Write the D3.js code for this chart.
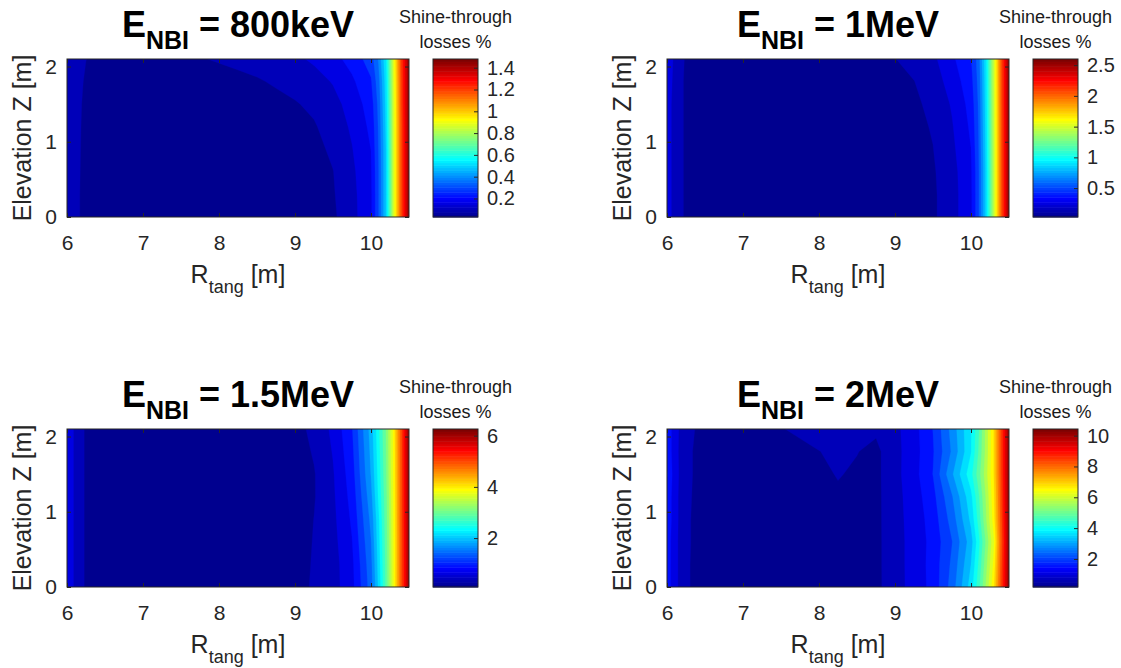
<!DOCTYPE html>
<html>
<head>
<meta charset="utf-8">
<script src="https://cdn.jsdelivr.net/npm/d3@7"></script>
<style>
body { margin: 0; background: #fff; }
text { font-family: "Liberation Sans", Arial, Helvetica, sans-serif; }
</style>
</head>
<body>
<svg id="chart" width="1121" height="668"></svg>
<script>
// grid of the scan (R_tang, elevation Z)
const rTang = [6, 6.05, 6.15, 6.25, 6.5, 7, 7.5, 8, 8.25, 8.5, 8.75, 9, 9.25, 9.5, 9.75, 10, 10.1, 10.2, 10.3, 10.4, 10.5];
const elevation = [0, 0.3, 0.6, 0.9, 1.2, 1.5, 1.8, 2.1];

// shine-through losses %, one row per elevation (bottom to top)
const loss800keV = [
  [0.13, 0.12, 0.095, 0.07, 0.05, 0.04, 0.035, 0.03, 0.032, 0.036, 0.042, 0.05, 0.06, 0.08, 0.13, 0.2, 0.33, 0.52, 0.9, 1.22, 1.48],
  [0.13, 0.12, 0.095, 0.07, 0.05, 0.04, 0.035, 0.031, 0.033, 0.037, 0.043, 0.05, 0.062, 0.085, 0.133, 0.2, 0.33, 0.52, 0.9, 1.22, 1.48],
  [0.13, 0.12, 0.096, 0.072, 0.05, 0.04, 0.036, 0.033, 0.035, 0.04, 0.047, 0.055, 0.068, 0.089, 0.138, 0.205, 0.33, 0.52, 0.9, 1.22, 1.48],
  [0.13, 0.12, 0.097, 0.074, 0.052, 0.042, 0.038, 0.036, 0.039, 0.044, 0.051, 0.06, 0.075, 0.1, 0.148, 0.212, 0.335, 0.52, 0.9, 1.22, 1.48],
  [0.13, 0.12, 0.098, 0.076, 0.054, 0.044, 0.041, 0.042, 0.046, 0.051, 0.058, 0.068, 0.085, 0.115, 0.16, 0.225, 0.34, 0.53, 0.9, 1.22, 1.48],
  [0.13, 0.12, 0.099, 0.079, 0.056, 0.048, 0.048, 0.054, 0.06, 0.066, 0.075, 0.086, 0.102, 0.13, 0.175, 0.24, 0.35, 0.54, 0.9, 1.23, 1.48],
  [0.135, 0.125, 0.102, 0.084, 0.062, 0.056, 0.06, 0.07, 0.077, 0.085, 0.097, 0.11, 0.128, 0.155, 0.2, 0.265, 0.37, 0.55, 0.91, 1.23, 1.48],
  [0.14, 0.13, 0.11, 0.091, 0.075, 0.07, 0.08, 0.095, 0.103, 0.112, 0.125, 0.14, 0.16, 0.19, 0.235, 0.3, 0.4, 0.57, 0.92, 1.24, 1.48]
];
const loss1MeV = [
  [0.3, 0.25, 0.17, 0.12, 0.08, 0.06, 0.05, 0.04, 0.035, 0.035, 0.045, 0.07, 0.09, 0.12, 0.2, 0.33, 0.55, 0.92, 1.5, 2.1, 2.6],
  [0.3, 0.25, 0.17, 0.12, 0.08, 0.06, 0.05, 0.04, 0.03, 0.035, 0.045, 0.07, 0.09, 0.12, 0.2, 0.33, 0.55, 0.92, 1.5, 2.1, 2.6],
  [0.3, 0.25, 0.17, 0.12, 0.08, 0.06, 0.05, 0.04, 0.035, 0.037, 0.05, 0.075, 0.095, 0.125, 0.205, 0.335, 0.55, 0.92, 1.5, 2.1, 2.6],
  [0.3, 0.25, 0.17, 0.12, 0.08, 0.06, 0.05, 0.042, 0.038, 0.04, 0.055, 0.08, 0.1, 0.135, 0.22, 0.35, 0.56, 0.93, 1.5, 2.1, 2.6],
  [0.3, 0.25, 0.17, 0.12, 0.08, 0.06, 0.05, 0.045, 0.042, 0.045, 0.062, 0.09, 0.11, 0.145, 0.235, 0.37, 0.57, 0.94, 1.51, 2.1, 2.6],
  [0.3, 0.25, 0.17, 0.12, 0.08, 0.06, 0.052, 0.05, 0.05, 0.055, 0.075, 0.1, 0.12, 0.16, 0.255, 0.39, 0.58, 0.95, 1.51, 2.11, 2.6],
  [0.31, 0.26, 0.17, 0.12, 0.08, 0.062, 0.056, 0.058, 0.062, 0.07, 0.09, 0.112, 0.135, 0.19, 0.29, 0.42, 0.6, 0.96, 1.52, 2.11, 2.6],
  [0.32, 0.27, 0.18, 0.125, 0.085, 0.065, 0.062, 0.068, 0.075, 0.09, 0.11, 0.135, 0.17, 0.22, 0.33, 0.45, 0.62, 0.98, 1.52, 2.12, 2.6]
];
const loss1p5MeV = [
  [0.72, 0.66, 0.5, 0.3, 0.2, 0.15, 0.12, 0.1, 0.09, 0.1, 0.14, 0.25, 0.38, 0.5, 0.78, 1.5, 2.2, 3.0, 3.95, 5.1, 6.2],
  [0.72, 0.66, 0.5, 0.3, 0.2, 0.15, 0.12, 0.1, 0.09, 0.1, 0.14, 0.24, 0.37, 0.5, 0.8, 1.55, 2.25, 3.02, 3.96, 5.1, 6.2],
  [0.72, 0.66, 0.5, 0.3, 0.2, 0.15, 0.12, 0.1, 0.095, 0.1, 0.14, 0.23, 0.36, 0.52, 0.85, 1.62, 2.3, 3.05, 3.97, 5.1, 6.22],
  [0.72, 0.66, 0.5, 0.3, 0.2, 0.15, 0.12, 0.1, 0.095, 0.1, 0.14, 0.22, 0.35, 0.54, 0.9, 1.7, 2.35, 3.08, 3.98, 5.12, 6.22],
  [0.72, 0.66, 0.5, 0.3, 0.2, 0.15, 0.12, 0.1, 0.095, 0.1, 0.13, 0.21, 0.33, 0.56, 0.95, 1.8, 2.45, 3.1, 4.0, 5.12, 6.24],
  [0.72, 0.66, 0.5, 0.3, 0.2, 0.15, 0.12, 0.1, 0.095, 0.1, 0.13, 0.21, 0.33, 0.58, 1.0, 1.9, 2.5, 3.15, 4.02, 5.13, 6.24],
  [0.72, 0.66, 0.5, 0.3, 0.2, 0.15, 0.12, 0.1, 0.1, 0.11, 0.14, 0.23, 0.37, 0.62, 1.05, 1.95, 2.55, 3.18, 4.03, 5.14, 6.26],
  [0.72, 0.66, 0.5, 0.3, 0.2, 0.15, 0.12, 0.11, 0.11, 0.12, 0.16, 0.26, 0.41, 0.66, 1.1, 2.0, 2.6, 3.2, 4.05, 5.15, 6.26]
];
const loss2MeV = [
  [1.7, 1.45, 1.0, 0.65, 0.45, 0.35, 0.3, 0.25, 0.22, 0.2, 0.5, 0.85, 1.2, 1.6, 2.5, 3.8, 4.7, 5.8, 6.9, 8.7, 10.4],
  [1.7, 1.45, 1.0, 0.65, 0.45, 0.35, 0.3, 0.25, 0.22, 0.2, 0.5, 0.86, 1.2, 1.62, 2.4, 3.6, 4.5, 5.6, 6.7, 8.6, 10.4],
  [1.75, 1.45, 1.0, 0.66, 0.45, 0.33, 0.28, 0.24, 0.2, 0.18, 0.5, 0.86, 1.2, 1.6, 2.3, 3.4, 4.3, 5.4, 6.5, 8.5, 10.4],
  [1.75, 1.5, 1.02, 0.66, 0.45, 0.33, 0.28, 0.24, 0.21, 0.2, 0.5, 0.87, 1.22, 1.65, 2.5, 3.7, 4.6, 5.7, 6.8, 8.6, 10.41],
  [1.8, 1.5, 1.02, 0.67, 0.46, 0.34, 0.3, 0.42, 0.55, 0.5, 0.5, 0.88, 1.25, 1.75, 2.7, 3.9, 4.8, 5.8, 6.9, 8.65, 10.42],
  [1.9, 1.55, 1.05, 0.68, 0.47, 0.36, 0.34, 0.52, 0.63, 0.55, 0.5, 0.9, 1.3, 1.9, 3.1, 4.3, 5.1, 6.0, 7.0, 8.7, 10.43],
  [1.8, 1.5, 1.03, 0.68, 0.47, 0.4, 0.5, 0.6, 0.68, 0.62, 0.5, 0.9, 1.28, 1.85, 2.8, 4.0, 4.9, 5.9, 7.0, 8.7, 10.43],
  [1.85, 1.5, 1.05, 0.7, 0.5, 0.45, 0.59, 0.75, 0.8, 0.7, 0.68, 0.92, 1.3, 1.9, 2.9, 4.0, 4.8, 5.9, 7.0, 8.7, 10.43]
];

const energies = ['800keV', '1MeV', '1.5MeV', '2MeV'];
const grids = [loss800keV, loss1MeV, loss1p5MeV, loss2MeV];
const colorbarTicks = [
  [0.2, 0.4, 0.6, 0.8, 1, 1.2, 1.4],
  [0.5, 1, 1.5, 2, 2.5],
  [2, 4, 6],
  [2, 4, 6, 8, 10]
];
const xTicks = [6, 7, 8, 9, 10];
const yTicks = [0, 1, 2];
const nLevels = 24;

// layout
const W = 342, H = 158;
const origins = [[67, 59], [667, 59], [67, 429], [667, 429]];
const cbGap = 24, cbW = 45;
const ink = '#262626';

// MATLAB jet(64)
const jetStops = [0, 7 / 63, 23 / 63, 39 / 63, 55 / 63, 1];
const jetColors = ['#00008f', '#0000ff', '#00ffff', '#ffff00', '#ff0000', '#800000'];

const svg = d3.select('#chart');
const nx = rTang.length, ny = elevation.length;

grids.forEach(function (grid, p) {
  const [ox, oy] = origins[p];
  const g = svg.append('g').attr('transform', `translate(${ox},${oy})`);

  const values = grid.flat();
  const [c0, c1] = d3.extent(values);
  const color = d3.scaleLinear()
    .domain(jetStops.map(t => c0 + t * (c1 - c0)))
    .range(jetColors)
    .clamp(true);

  const x = d3.scaleLinear().domain([6, 10.5]).range([0, W]);
  const y = d3.scaleLinear().domain([0, 2.1]).range([H, 0]);
  // grid index -> data coordinate
  const ix = d3.scaleLinear().domain(d3.range(nx)).range(rTang).clamp(true);
  const iy = d3.scaleLinear().domain(d3.range(ny)).range(elevation).clamp(true);

  const proj = d3.geoTransform({
    point: function (px, py) {
      this.stream.point(x(ix(px - 0.5)), y(iy(py - 0.5)));
    }
  });
  const path = d3.geoPath(proj);

  const levels = d3.range(1, nLevels).map(k => c0 + k * (c1 - c0) / nLevels);
  const contours = d3.contours().size([nx, ny]).thresholds(levels)(values);

  g.append('clipPath').attr('id', 'clip' + p)
    .append('rect').attr('width', W).attr('height', H);

  const plot = g.append('g').attr('clip-path', `url(#clip${p})`);
  plot.append('rect').attr('width', W).attr('height', H).attr('fill', color(c0));
  plot.selectAll('path')
    .data(contours)
    .join('path')
    .attr('d', path)
    .attr('fill', d => color(d.value))
    .attr('stroke', d => color(d.value))
    .attr('stroke-width', 0.3);

  // axes with inward ticks on all sides
  const xAxis = g.append('g').attr('transform', `translate(0,${H})`)
    .call(d3.axisBottom(x).tickValues(xTicks).tickSize(-4).tickPadding(18).tickFormat(d3.format('d')));
  g.append('g').call(d3.axisTop(x).tickValues(xTicks).tickSize(-4).tickFormat(''));
  const yAxis = g.append('g')
    .call(d3.axisLeft(y).tickValues(yTicks).tickSize(-4).tickPadding(10).tickFormat(d3.format('d')));
  g.append('g').attr('transform', `translate(${W},0)`)
    .call(d3.axisRight(y).tickValues(yTicks).tickSize(-4).tickFormat(''));
  g.selectAll('.domain').remove();
  g.selectAll('.tick line').attr('stroke', ink);
  xAxis.selectAll('text').attr('font-size', 21).attr('fill', ink);
  yAxis.selectAll('text').attr('font-size', 21).attr('fill', ink);

  g.append('rect').attr('width', W).attr('height', H)
    .attr('fill', 'none').attr('stroke', ink).attr('stroke-width', 1);

  // title
  const title = g.append('text')
    .attr('x', W / 2).attr('y', -22)
    .attr('text-anchor', 'middle')
    .attr('font-weight', 'bold').attr('font-size', 36).attr('fill', '#000');
  title.append('tspan').text('E');
  title.append('tspan').attr('dy', 12).attr('font-size', 25).text('NBI');
  title.append('tspan').attr('dy', -12).text(' = ' + energies[p]);

  // axis labels
  const xl = g.append('text')
    .attr('x', W / 2).attr('y', H + 66)
    .attr('text-anchor', 'middle').attr('font-size', 25).attr('fill', ink);
  xl.append('tspan').text('R');
  xl.append('tspan').attr('dy', 10).attr('font-size', 18).text('tang');
  xl.append('tspan').attr('dy', -10).text(' [m]');

  g.append('text')
    .attr('transform', `translate(-36,${H / 2}) rotate(-90)`)
    .attr('text-anchor', 'middle').attr('font-size', 25).attr('fill', ink)
    .text('Elevation Z [m]');

  // colorbar
  const cb = g.append('g').attr('transform', `translate(${W + cbGap},0)`);
  const cy = d3.scaleLinear().domain([c0, c1]).range([H, 0]);
  const steps = d3.range(64);
  cb.selectAll('rect.cell')
    .data(steps)
    .join('rect')
    .attr('class', 'cell')
    .attr('x', 0)
    .attr('width', cbW)
    .attr('y', i => cy(c0 + (i + 1) * (c1 - c0) / 64))
    .attr('height', i => cy(c0 + i * (c1 - c0) / 64) - cy(c0 + (i + 1) * (c1 - c0) / 64) + 0.5)
    .attr('fill', i => color(c0 + (i / 63) * (c1 - c0)));
  const cbAxis = cb.append('g').attr('transform', `translate(${cbW},0)`)
    .call(d3.axisRight(cy).tickValues(colorbarTicks[p]).tickSize(-4).tickPadding(9).tickFormat(d3.format('~g')));
  cbAxis.select('.domain').remove();
  cbAxis.selectAll('.tick line').attr('stroke', ink);
  cbAxis.selectAll('text').attr('font-size', 20).attr('fill', ink);
  cb.append('rect').attr('width', cbW).attr('height', H)
    .attr('fill', 'none').attr('stroke', ink).attr('stroke-width', 1);

  const cbt = cb.append('text').attr('text-anchor', 'middle')
    .attr('font-size', 18).attr('fill', '#1a1a1a');
  cbt.append('tspan').attr('x', cbW / 2).attr('y', -36).text('Shine-through');
  cbt.append('tspan').attr('x', cbW / 2).attr('y', -11).text('losses %');
});
</script>
</body>
</html>
